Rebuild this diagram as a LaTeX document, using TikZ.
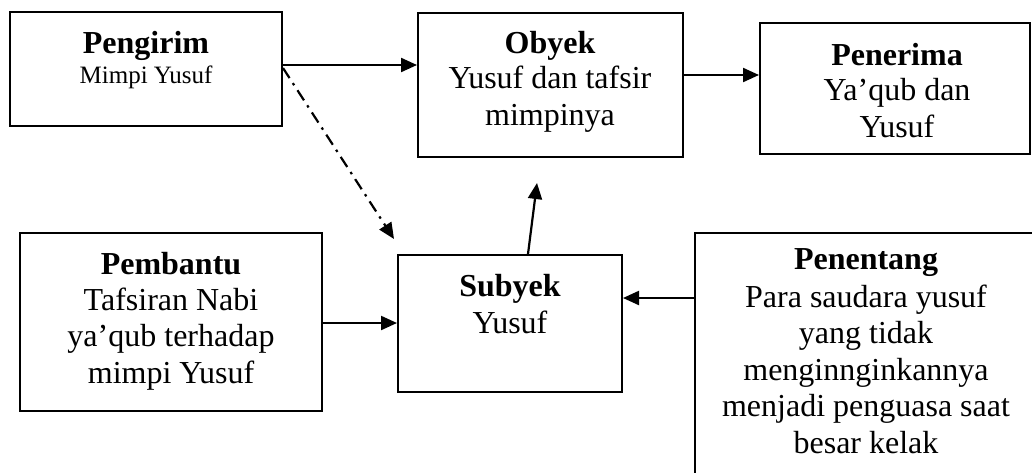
\documentclass[tikz,border=0pt]{standalone}
\usepackage{fontspec}
\setmainfont{Liberation Serif}
\usetikzlibrary{arrows.meta}
\begin{document}
\begin{tikzpicture}[x=1pt,y=-1pt,
  box/.style={draw, line width=2pt, fill=white, inner sep=0pt},
  title/.style={font=\fontsize{32}{36.5}\selectfont\bfseries, anchor=base, inner sep=0pt},
  % multi-line bodies are placed by the baseline of their last line
  body/.style={font=\fontsize{32}{36.5}\selectfont, align=center, anchor=base, inner sep=0pt},
  smallbody/.style={font=\fontsize{25}{30}\selectfont, align=center, anchor=base, inner sep=0pt},
  arr/.style={line width=2.2pt, -{Triangle[length=16pt,width=14pt]}},
  dashdotarr/.style={arr, dash pattern=on 12pt off 6pt on 2.5pt off 6pt}]
\useasboundingbox (0,0) rectangle (1032,472);
\clip (0,0) rectangle (1032,472);

% boxes
\node[box, minimum width=272pt, minimum height=114pt] (pengirim) at (146,69) {};
\node[box, minimum width=265pt, minimum height=144pt] (obyek) at (550.5,85) {};
\node[box, minimum width=270pt, minimum height=131pt] (penerima) at (895,88.5) {};
\node[box, minimum width=302pt, minimum height=178pt] (pembantu) at (171,322) {};
\node[box, minimum width=224pt, minimum height=137pt] (subyek) at (510,323.5) {};
\node[box, minimum width=342pt, minimum height=257pt] (penentang) at (866,361.5) {};

% texts
\node[title] (pengirimT) at (146,53) {Pengirim};
\node[smallbody] (pengirimB) at (146,83) {Mimpi Yusuf};
\node[title] (obyekT) at (550,53) {Obyek};
\node[body] (obyekB) at (550,125) {Yusuf dan tafsir\\mimpinya};
\node[title] (penerimaT) at (897,65) {Penerima};
\node[body] (penerimaB) at (897,137) {Ya’qub dan\\Yusuf};
\node[title] (pembantuT) at (171,274) {Pembantu};
\node[body] (pembantuB) at (171,383) {Tafsiran Nabi\\ya’qub terhadap\\mimpi Yusuf};
\node[title] (subyekT) at (510,296) {Subyek};
\node[body] (subyekB) at (510,333) {Yusuf};
\node[title] (penentangT) at (866,269) {Penentang};
\node[body] (penentangB) at (866,453) {Para saudara yusuf\\yang tidak\\menginnginkannya\\menjadi penguasa saat\\besar kelak};

% free arrow ends
\coordinate (dashEnd) at (394,239);
\coordinate (upEnd) at (537,183);

% connectors
\draw[arr] (pengirim.east |- 0,65) -- (obyek.west |- 0,65);
\draw[arr] (obyek.east |- 0,75) -- (penerima.west |- 0,75);
\draw[dashdotarr] (pengirim.east |- 0,68) -- (dashEnd);
\draw[arr] (528,0 |- subyek.north) -- (upEnd);
\draw[arr] (pembantu.east |- 0,323) -- (subyek.west |- 0,323);
\draw[arr] (penentang.west |- 0,298) -- (subyek.east |- 0,298);
\end{tikzpicture}
\end{document}
